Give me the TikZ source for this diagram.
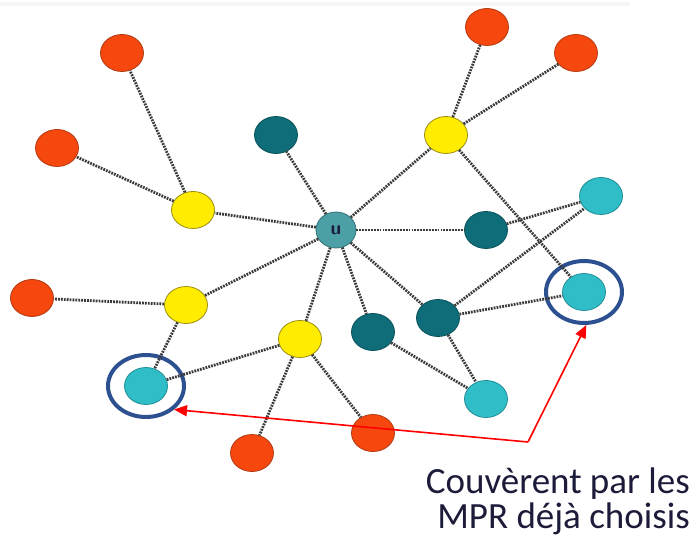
\documentclass[tikz,border=0pt]{standalone}
\usepackage{fontspec}
\newfontfamily\labelfont{Carlito}
\usetikzlibrary{shapes.geometric,arrows.meta}
\definecolor{redfill}{HTML}{F5470E}
\definecolor{redline}{HTML}{B23A12}
\definecolor{yelfill}{HTML}{FFEC00}
\definecolor{yelline}{HTML}{9A8E10}
\definecolor{darkfill}{HTML}{0E6D78}
\definecolor{darkline}{HTML}{0A525A}
\definecolor{cyanfill}{HTML}{2FBDC8}
\definecolor{cyanline}{HTML}{1F8E96}
\definecolor{ufill}{HTML}{4C9FA5}
\definecolor{uline}{HTML}{2E7278}
\definecolor{ringblue}{HTML}{2D5190}
\definecolor{edgegray}{HTML}{3A3A3A}
\definecolor{textnavy}{HTML}{1C1C3A}
\tikzset{
  vertex/.style={ellipse, minimum width=43pt, minimum height=37pt, inner sep=0pt, line width=0.8pt},
  rednode/.style={vertex, fill=redfill, draw=redline},
  yelnode/.style={vertex, fill=yelfill, draw=yelline},
  darknode/.style={vertex, fill=darkfill, draw=darkline},
  cyannode/.style={vertex, fill=cyanfill, draw=cyanline},
  unode/.style={vertex, minimum width=40pt, minimum height=36pt, fill=ufill, draw=uline,
    font=\sffamily\bfseries\fontsize{19}{19}\selectfont, text=textnavy},
  ring/.style={ellipse, minimum width=76pt, minimum height=62pt, inner sep=0pt, draw=ringblue, line width=4pt},
  link/.style={draw=edgegray, line width=2.8pt, dash pattern=on 1.8pt off 1.1pt},
  pointer/.style={draw=red, line width=1.6pt, -{Triangle[length=13pt,width=11pt]}},
  caption/.style={font=\labelfont\fontsize{37}{37}\selectfont, text=textnavy, inner sep=0pt},
}
\begin{document}
\begin{tikzpicture}[x=1pt,y=-1pt]
\useasboundingbox (0,0) rectangle (696,537);
% faint strip along the top edge
\draw[gray!8, line width=4pt] (0,4) -- (630,4);

% central node
\node[unode] (u) at (336,230) {u};

% one-hop neighbours
\node[yelnode]  (y1) at (193,210) {};
\node[yelnode]  (y2) at (446,135) {};
\node[yelnode]  (y3) at (186,305) {};
\node[yelnode]  (y4) at (300,339) {};
\node[darknode] (d1) at (276,135) {};
\node[darknode] (d2) at (486,230) {};
\node[darknode] (d3) at (373,332) {};
\node[darknode] (d4) at (438,318) {};

% two-hop neighbours
\node[rednode]  (r1) at (122,53) {};
\node[rednode]  (r2) at (57,148) {};
\node[rednode]  (r3) at (487,27) {};
\node[rednode]  (r4) at (576,53) {};
\node[rednode]  (r5) at (32,298) {};
\node[rednode]  (r6) at (252,453) {};
\node[rednode]  (r7) at (373,433) {};
\node[cyannode] (c1) at (601,196) {};
\node[cyannode] (c2) at (486,399) {};
\node[cyannode] (cA) at (146,386) {};
\node[cyannode] (cB) at (584,292) {};

% rings around the already covered nodes
\node[ring] (ringA) at (146,386) {};
\node[ring] (ringB) at (584,292) {};

% links
\foreach \a/\b in {u/y1, u/d1, u/y2, u/d2, u/y3, u/y4, u/d3, u/d4,
                   y1/r1, y1/r2, y2/r3, y2/r4, y2/cB, d2/c1,
                   y3/r5, y3/cA, y4/cA, y4/r6, y4/r7,
                   d3/c2, d4/c1, d4/cB, d4/c2}
  \draw[link] (\a) -- (\b);

% annotation arrows
\coordinate (bend) at (528,442);
\draw[pointer] (bend) -- (ringA.-40);
\draw[pointer] (bend) -- (ringB.-86);

\node[caption, anchor=base east] (cap1) at (690,493) {Couvèrent par les};
\node[caption, anchor=base east] (cap2) at (690,528) {MPR déjà choisis};
\end{tikzpicture}
\end{document}
